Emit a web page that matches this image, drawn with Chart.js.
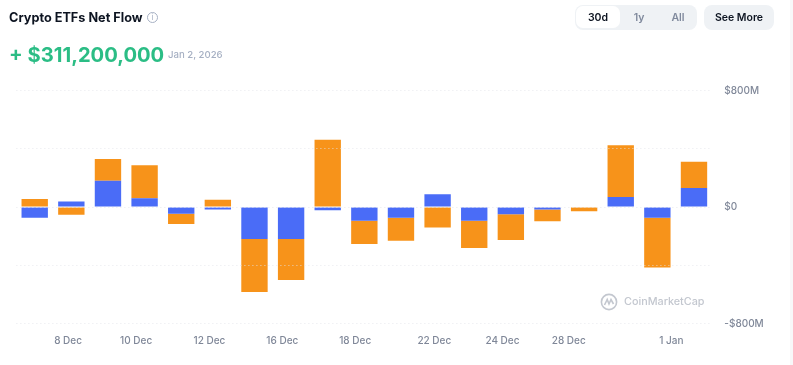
<!DOCTYPE html>
<html>
<head>
<meta charset="utf-8">
<title>Crypto ETFs Net Flow</title>
<script src="https://cdn.jsdelivr.net/npm/chart.js@4"></script>
<style>
  html, body { margin: 0; padding: 0; background: #fff; }
  body { width: 793px; height: 365px; overflow: hidden; position: relative; font-family: Inter, sans-serif; }
  canvas { position: absolute; left: 0; top: 0; }
  .abs { position: absolute; white-space: nowrap; }
  #title { left: 9px; top: 9px; font-size: 12.7px; line-height: 17px; font-weight: 700; color: #0d1421; }
  #info { left: 147px; top: 12px; width: 9px; height: 9px; border: 1px solid #a6b0c3; border-radius: 50%; font-size: 8px; line-height: 9px; text-align: center; color: #a6b0c3; }
  #flow { left: 9px; top: 41px; font-size: 20.2px; line-height: 28px; font-weight: 700; color: #2bbd85; }
  #when { left: 168px; top: 48px; font-size: 9.6px; line-height: 14px; font-weight: 500; color: #a6b0c3; }
  #range { left: 575px; top: 5px; width: 122px; height: 25px; background: #eff2f5; border-radius: 8px; }
  #active { left: 576px; top: 6px; width: 44px; height: 22px; background: #fff; border-radius: 7px; }
  .btn { top: 5px; height: 25px; line-height: 25px; font-size: 10.5px; font-weight: 600; text-align: center; color: #808a9d; }
  #more { left: 704px; width: 70px; background: #eff2f5; border-radius: 8px; color: #0d1421; }
  #strip { left: 790px; top: 0; width: 3px; height: 365px; background: #f8f8f9; }
  #mark { left: 624px; top: 294px; font-size: 10.8px; line-height: 16px; font-weight: 500; color: #c3c7cf; }
  #logo { left: 600px; top: 293px; }
</style>
</head>
<body>
<canvas id="flowChart" width="793" height="365"></canvas>
<div class="abs" id="title">Crypto ETFs Net Flow</div>
<div class="abs" id="info">i</div>
<div class="abs" id="flow">+ $311,200,000</div>
<div class="abs" id="when">Jan 2, 2026</div>
<div class="abs" id="range"></div>
<div class="abs" id="active"></div>
<div class="abs btn" style="left:576px;width:44px;color:#0d1421">30d</div>
<div class="abs btn" style="left:622px;width:34px">1y</div>
<div class="abs btn" style="left:661px;width:34px">All</div>
<div class="abs btn" id="more">See More</div>
<div class="abs" id="strip"></div>
<svg class="abs" id="logo" width="18" height="18" viewBox="0 0 18 18" fill="none" stroke="#c3c7cf" stroke-width="1.6">
  <circle cx="9" cy="9" r="7.6"/>
  <path d="M4.5 12 L7.2 6.5 L9 11 L11 6.5 L13.5 11"/>
</svg>
<div class="abs" id="mark">CoinMarketCap</div>

<script>
const days = ['5 Dec','8 Dec','9 Dec','10 Dec','11 Dec','12 Dec','15 Dec','16 Dec','17 Dec','18 Dec',
              '19 Dec','22 Dec','23 Dec','24 Dec','26 Dec','28 Dec','30 Dec','1 Jan','2 Jan'];
// $M
const blueFlow   = [-73, 37, 181, 60, -46, -18, -220, -220, -23, -94, -73, 87, -94, -50, -18, -4, 69, -73, 130];
const orangeFlow = [55, -53, 149, 227, -71, 50, -364, -281, 462, -160, -158, -140, -188, -176, -80, -26, 355, -343, 181];

const xTickLabels = ['8 Dec','10 Dec','12 Dec','16 Dec','18 Dec','22 Dec','24 Dec','28 Dec','1 Jan'];
// the site's tick labels sit a little off their bars, so these are in bar-index units
const xTickSpots  = [0.91, 2.77, 4.77, 6.76, 8.75, 10.91, 12.77, 14.58, 17.38];
const yTickLabels = { '800': '$800M', '0': '$0', '-800': '-$800M' };

const tickFont = { family: 'Inter', size: 10, weight: '500' };

new Chart(document.getElementById('flowChart').getContext('2d'), {
    type: 'bar',
    data: {
        labels: days,
        datasets: [
            { label: 'Blue', data: blueFlow, backgroundColor: '#4a6cf7' },
            { label: 'Orange', data: orangeFlow, backgroundColor: '#f7931a' }
        ]
    },
    options: {
        responsive: false,
        animation: false,
        barPercentage: 0.72,
        categoryPercentage: 1,
        layout: { padding: { left: 16.4, top: 90.5, right: 0, bottom: 0 } },
        plugins: { legend: { display: false }, tooltip: { enabled: false } },
        scales: {
            x: { stacked: true, display: false },
            xDates: {
                axis: 'x',
                type: 'linear',
                position: 'bottom',
                offset: false,
                min: -0.5,
                max: 18.5,
                grid: { display: false },
                border: { display: false },
                afterBuildTicks: axis => { axis.ticks = xTickSpots.map(v => ({ value: v })); },
                afterFit: axis => { axis.height = 41.5; },
                ticks: {
                    autoSkip: false,
                    maxRotation: 0,
                    padding: 3,
                    color: '#7f8798',
                    font: tickFont,
                    callback: (v, i) => xTickLabels[i]
                }
            },
            y: {
                stacked: true,
                position: 'right',
                min: -800,
                max: 800,
                afterFit: axis => { axis.width = 80.7; },
                border: { display: false, dash: [1, 3] },
                grid: { z: 1, color: 'rgba(226,228,234,0.8)', lineWidth: 1, drawTicks: false },
                ticks: {
                    stepSize: 400,
                    padding: 12,
                    color: '#7f8798',
                    font: tickFont,
                    callback: v => yTickLabels[v] || ''
                }
            }
        }
    }
});
</script>
</body>
</html>
